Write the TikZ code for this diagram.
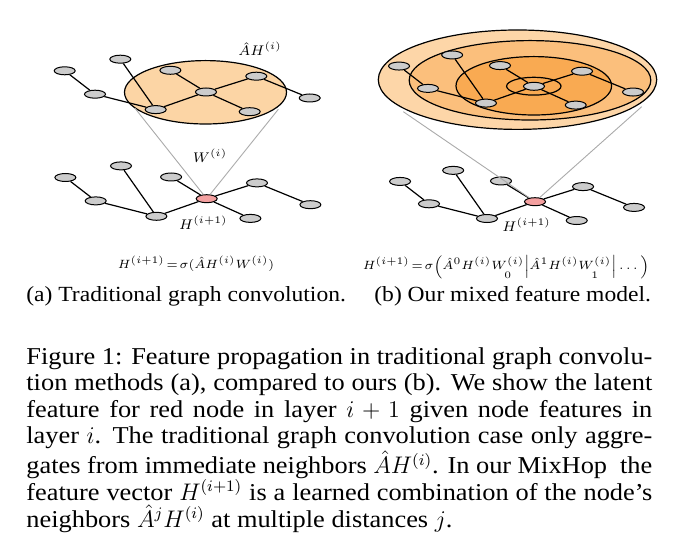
\documentclass[tikz,border=0pt]{standalone}
\usepackage{amsmath}
\usepackage{fontspec}
\setmainfont{Liberation Serif}[FakeStretch=1.09]
\usetikzlibrary{shapes.geometric,backgrounds}

\definecolor{peach}{RGB}{252,213,165}
\definecolor{ringa}{RGB}{253,214,168}
\definecolor{ringb}{RGB}{251,191,124}
\definecolor{ringc}{RGB}{249,170,82}
\definecolor{nodegray}{RGB}{204,204,204}
\definecolor{nodered}{RGB}{244,160,160}
\definecolor{linegray}{RGB}{170,170,170}

\begin{document}
\begin{tikzpicture}[
		x=0.5pt, y=-0.5pt,
		vertex/.style={ellipse, draw, fill=nodegray, line width=0.5pt, minimum width=10.5pt, minimum height=4pt, inner sep=0pt},
		hot/.style={vertex, fill=nodered},
		link/.style={line width=0.6pt},
		disk/.style={draw, line width=0.6pt},
		proj/.style={draw=linegray, line width=0.45pt},
		lbl/.style={font=\fontsize{7.5}{8}\selectfont, inner sep=0pt},
		eqn/.style={font=\fontsize{6.4}{8}\selectfont, inner sep=0pt, anchor=base},
		sub/.style={font=\fontsize{10.8}{12}\selectfont, inner sep=0pt, anchor=base west},
		]
		\useasboundingbox (0,0) rectangle (700,560);
		
		% disks of neighbours
		\begin{scope}[on background layer]
			\draw[disk, fill=peach] (205.5,92.3) ellipse [x radius=81, y radius=31.7];
			\draw[disk, fill=ringa] (517.5,79.7) ellipse [x radius=139.2, y radius=49.7];
			\draw[disk, fill=ringb] (530,80.3) ellipse [x radius=120.8, y radius=39.7];
			\draw[disk, fill=ringc] (533.8,85.8) ellipse [x radius=77.8, y radius=29.2];
			\draw[disk, fill=ringc] (533.8,86.2) ellipse [x radius=27.2, y radius=8.9];
		\end{scope}
		
		% four copies of the graph: layer i on top, layer i+1 below
		\foreach \g/\cx/\cy/\s/\mid in {a/206/92/1/vertex, b/206.7/198.7/1/hot, c/534/86.3/0.955/vertex, d/535/201.7/0.955/hot} {
			\begin{scope}[shift={(\cx,\cy)}, scale=\s]
				\foreach \n/\x/\y in {1/-141.3/-21.2, 2/-85.7/-32.8, 3/-111/2.2, 4/-50.3/17.6, 5/-35.6/-21.7, 7/50.3/-15.8, 8/43.7/19.7, 9/103.7/6}
					\node[vertex] (\g\n) at (\x,\y) {};
				\node[\mid] (\g6) at (0,0) {};
			\end{scope}
			\begin{scope}[on background layer]
				\foreach \u/\v in {1/3, 3/4, 2/4, 4/6, 5/6, 6/7, 6/8, 7/9}
					\draw[link] (\g\u) -- (\g\v);
			\end{scope}
		}
		
		% projection cones
		\coordinate (al) at (135,108.3);
		\coordinate (ar) at (278.3,109.3);
		\coordinate (cl) at (403.3,111.7);
		\coordinate (cr) at (641.7,106.7);
		\draw[proj] (al) -- (b6) (ar) -- (b6);
		\draw[proj] (cl) -- (d6) (cr) -- (d6);
		
		\node[lbl] (agg) at (260,49) {$\hat{A}H^{(i)}$};
		\node[lbl] (wgt) at (210,156) {$W^{(i)}$};
		\node[lbl] (outa) at (203.3,222.3) {$H^{(i+1)}$};
		\node[lbl] (outb) at (526.7,225) {$H^{(i+1)}$};
		
		\node[eqn] (eqa) at (196,269) {$\thickmuskip=2mu\relax H^{(i+1)} = \sigma(\hat{A}H^{(i)}W^{(i)})$};
		\node[eqn] (eqb) at (506,270) {$\thickmuskip=2mu\relax H^{(i+1)} = \sigma\Big(\hat{A}^0H^{(i)}\underset{0}{W^{(i)}}\Big|\hat{A}^1H^{(i)}\underset{1}{W^{(i)}}\Big|\dots\Big)$};
		
		\node[sub] (capa) at (26,302) {(a) Traditional graph convolution.};
		\node[sub] (capb) at (374,302) {(b) Our mixed feature model.};
		
		\node[anchor=north west, inner sep=0pt, text width=313pt, align=justify, font=\fontsize{12.1}{13.3}\selectfont] (cap) at (26,347) {Figure 1: Feature propagation in traditional graph convolu-\linebreak
			tion methods (a), compared to ours (b). We show the latent\linebreak
			feature for red node in layer $i+1$ given node features in\linebreak
			layer $i$. The traditional graph convolution case only aggre-\linebreak
			gates from immediate neighbors $\hat{A}H^{(i)}$. In our MixHop\ \ the\linebreak
			feature vector $H^{(i+1)}$ is a learned combination of the node's\linebreak
			neighbors $\hat{A}^jH^{(i)}$ at multiple distances $j$.};
		
	\end{tikzpicture}
\end{document}
